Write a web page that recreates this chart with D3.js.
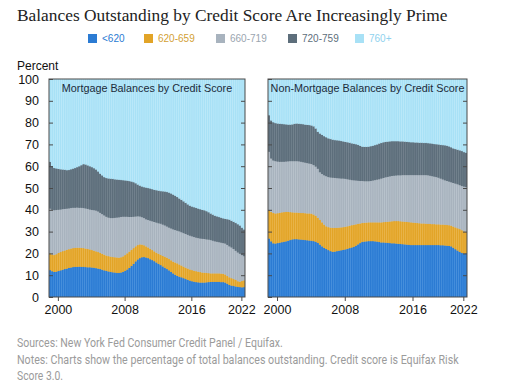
<!DOCTYPE html>
<html><head><meta charset="utf-8">
<script src="https://cdn.jsdelivr.net/npm/d3@7"></script>
<style>body{margin:0;background:#fff}svg{display:block}</style>
</head><body>
<svg id="c" width="506" height="391"></svg>
<script>
// ---------- data ----------
const seriesNames = ["<620","620-659","660-719","720-759","760+"];
const years = [1999,2000,2001,2002,2003,2004,2005,2006,2007,2008,2009,2010,2011,2012,2013,2014,2015,2016,2017,2018,2019,2020,2021,2022];
const quarterNames = ["Q1","Q2","Q3","Q4"];
const quarters = years.flatMap(y => quarterNames.map(q => y + q)).slice(0, 94); // 1999Q1 .. 2022Q2
const xTickLabels = ["2000","2008","2016","2022"];
const yTickValues = [0,10,20,30,40,50,60,70,80,90,100];

// Mortgage balances, percent of total by credit score
const mortLt620 = [12.3,11.8,11.5,11.6, 11.9,12.2,12.5,12.8, 13.0,13.3,13.5,13.7, 13.8,13.8,13.9,13.8, 13.8,13.7,13.6,13.6, 13.5,13.4,13.2,13.0, 12.8,12.5,12.2,12.0, 11.7,11.5,11.3,11.2, 11.0,11.0,11.2,11.5, 12.0,12.6,13.3,14.2, 15.2,16.3,17.2,17.8, 18.2,18.3,18.1,17.8, 17.3,16.9,16.4,15.8, 15.2,14.6,14.0,13.4, 12.8,12.2,11.5,10.8, 10.2,9.7,9.3,9.0, 8.6,8.2,7.8,7.5, 7.2,7.0,6.8,6.7, 6.6,6.6,6.6,6.7, 6.8,6.9,6.9,6.9, 6.9,6.9,6.8,6.8, 6.6,6.1,5.5,5.2, 5.0,4.8,4.6,4.5, 4.4,4.5];
const mort620 = [7.7,7.7,7.7,8.0, 8.3,8.4,8.5,8.5, 8.6,8.6,8.7,8.7, 8.7,8.8,8.7,8.7, 8.6,8.5,8.4,8.2, 8.0,7.8,7.7,7.6, 7.4,7.3,7.2,7.0, 7.0,7.0,7.0,7.0, 7.1,7.0,7.0,7.1, 7.2,7.4,7.5,7.4, 7.2,6.9,6.6,6.3, 5.8,5.4,5.1,4.9, 4.8,4.6,4.5,4.5, 4.6,4.7,4.8,5.0, 5.2,5.2,5.3,5.4, 5.6,5.7,5.6,5.4, 5.3,5.2,5.2,5.1, 5.1,5.0,5.0,4.9, 4.8,4.6,4.5,4.3, 4.1,3.9,3.9,3.9, 3.9,3.9,3.9,3.8, 3.7,3.5,3.5,3.4, 3.2,3.0,2.6,2.5, 2.9,3.1];
const mort660 = [20.5,20.5,20.6,20.3, 19.8,19.5,19.3,19.1, 18.9,18.7,18.6,18.5, 18.4,18.4,18.3,18.4, 18.4,18.4,18.4,18.3, 18.4,18.6,18.7,18.6, 18.4,18.2,18.0,17.8, 17.7,17.7,17.9,18.1, 18.3,18.5,18.5,18.2, 17.6,16.8,15.9,15.1, 14.4,13.7,13.2,12.8, 12.6,12.5,12.4,12.6, 12.9,13.2,13.5,13.8, 14.0,14.3,14.4,14.4, 14.3,14.4,14.6,14.8, 14.9,15.0,15.2,15.3, 15.4,15.5,15.5,15.5, 15.5,15.5,15.4,15.4, 15.4,15.5,15.5,15.4, 15.4,15.3,15.0,14.7, 14.5,14.3,14.2,14.1, 14.2,14.3,14.2,14.1, 13.8,13.4,13.2,12.8, 11.9,11.1];
const mort720 = [21.5,20.0,19.4,19.1, 18.8,18.5,18.2,18.0, 17.7,17.7,17.8,18.0, 18.3,18.6,19.1,19.6, 20.2,20.2,20.0,19.9, 19.7,19.3,18.9,18.4, 18.0,17.8,17.6,17.8, 18.0,18.1,18.0,17.7, 17.5,17.3,17.0,16.8, 16.7,16.6,16.5,16.3, 15.9,15.3,14.6,14.2, 14.1,14.2,14.6,14.7, 14.8,14.8,14.8,14.9, 15.0,15.0,15.3,15.6, 15.9,16.1,16.1,16.0, 15.8,15.5,15.1,14.9, 14.6,14.3,14.0,13.8, 13.7,13.7,13.7,13.6, 13.5,13.3,13.2,13.0, 12.6,12.2,12.0,11.8, 11.7,11.6,11.5,11.4, 11.4,11.8,12.3,12.3, 12.5,12.8,13.0,13.0, 12.6,12.3];
const mort760 = [38.0,40.0,40.8,41.0, 41.2,41.4,41.5,41.6, 41.8,41.7,41.4,41.1, 40.8,40.4,40.0,39.5, 39.0,39.2,39.6,40.0, 40.4,40.9,41.5,42.4, 43.4,44.2,45.0,45.4, 45.6,45.7,45.8,46.0, 46.1,46.2,46.3,46.4, 46.5,46.6,46.8,47.0, 47.3,47.8,48.4,48.9, 49.3,49.6,49.8,50.0, 50.2,50.5,50.8,51.0, 51.2,51.4,51.5,51.6, 51.8,52.1,52.5,53.0, 53.5,54.1,54.8,55.4, 56.1,56.8,57.5,58.1, 58.5,58.8,59.1,59.4, 59.7,60.0,60.2,60.6, 61.1,61.7,62.2,62.7, 63.0,63.3,63.6,63.9, 64.1,64.3,64.5,65.0, 65.5,66.0,66.6,67.2, 68.2,69.0];

// Non-mortgage balances, percent of total by credit score
const nmLt620 = [26.8,25.5,24.6,24.5, 24.7,24.9,25.1,25.3, 25.5,25.8,26.1,26.4, 26.5,26.5,26.4,26.3, 26.2,26.1,26.0,25.9, 25.8,25.6,25.3,24.8, 24.0,23.2,22.5,22.0, 21.5,21.0,20.7,20.8, 21.0,21.2,21.4,21.6, 21.8,22.1,22.4,22.7, 23.0,23.5,24.1,24.7, 25.2,25.4,25.5,25.6, 25.6,25.6,25.5,25.4, 25.2,25.0,25.0,24.9, 24.8,24.7,24.6,24.6, 24.5,24.4,24.3,24.2, 24.1,24.0,23.9,23.8, 23.8,23.8,23.8,23.8, 23.8,23.8,23.8,23.8, 23.8,23.8,23.8,23.8, 23.8,23.7,23.7,23.6, 23.5,23.4,23.2,22.6, 21.9,21.3,20.7,20.2, 19.9,20.0];
const nm620 = [13.0,13.5,13.9,13.8, 13.7,13.7,13.7,13.6, 13.5,13.2,12.8,12.4, 12.2,12.2,12.2,12.2, 12.3,12.3,12.3,12.4, 12.4,12.2,11.9,11.5, 11.3,11.0,10.7,10.4, 10.5,10.8,11.0,10.9, 10.7,10.6,10.5,10.4, 10.4,10.3,10.3,10.2, 10.1,9.8,9.4,9.0, 8.7,8.6,8.6,8.6, 8.6,8.6,8.7,8.8, 9.0,9.2,9.3,9.5, 9.7,9.9,10.1,10.2, 10.3,10.4,10.4,10.4, 10.4,10.4,10.4,10.4, 10.3,10.2,10.1,10.0, 9.9,9.9,9.8,9.7, 9.7,9.6,9.6,9.5, 9.5,9.5,9.5,9.5, 9.5,9.5,9.5,9.7, 10.0,10.2,10.4,10.4, 10.2,9.8];
const nm660 = [26.8,24.5,24.1,24.0, 23.7,23.4,23.2,23.1, 23.1,23.2,23.4,23.5, 23.6,23.6,23.6,23.5, 23.3,23.2,23.1,22.9, 22.8,22.7,22.6,22.5, 21.9,22.2,22.6,23.0, 23.0,23.0,23.0,22.9, 22.8,22.6,22.4,22.3, 22.0,21.6,21.1,20.7, 20.4,20.1,19.8,19.5, 19.3,19.1,19.0,18.9, 19.0,19.2,19.4,19.6, 19.8,20.1,20.3,20.5, 20.6,20.7,20.8,20.8, 20.9,21.0,21.1,21.3, 21.4,21.5,21.6,21.7, 21.8,21.9,22.0,22.1, 22.2,22.2,22.3,22.3, 22.1,22.0,21.8,21.7, 21.4,21.1,20.7,20.4, 20.2,20.0,19.9,20.0, 20.1,20.2,20.2,20.3, 20.5,20.6];
const nm720 = [16.8,17.5,17.6,17.5, 17.5,17.5,17.4,17.3, 17.1,16.9,16.8,16.9, 17.2,17.3,17.3,17.4, 17.5,17.5,17.6,17.7, 17.7,17.8,17.5,17.0, 17.8,18.0,18.0,17.9, 17.8,17.7,17.5,17.4, 17.4,17.4,17.3,17.1, 17.0,17.0,17.0,16.9, 16.8,16.7,16.5,16.2, 15.8,15.8,15.8,15.9, 16.0,16.0,16.1,16.2, 16.4,16.4,16.4,16.3, 16.2,16.1,16.0,15.9, 15.8,15.7,15.6,15.5, 15.4,15.3,15.2,15.1, 15.1,15.0,15.0,14.9, 14.9,14.8,14.8,14.8, 14.9,15.0,15.0,15.1, 15.3,15.5,15.8,16.1, 16.2,16.2,16.1,15.9, 15.9,15.9,16.0,16.1, 15.9,15.8];
const nm760 = [16.6,19.0,19.8,20.2, 20.4,20.5,20.6,20.7, 20.8,20.9,20.9,20.8, 20.5,20.4,20.5,20.6, 20.7,20.9,21.0,21.1, 21.3,21.7,22.7,24.2, 25.0,25.6,26.2,26.7, 27.2,27.5,27.8,28.0, 28.1,28.2,28.4,28.6, 28.8,29.0,29.2,29.5, 29.7,29.9,30.2,30.6, 31.0,31.1,31.1,31.0, 30.8,30.6,30.3,30.0, 29.6,29.3,29.0,28.8, 28.7,28.6,28.5,28.5, 28.5,28.5,28.6,28.6, 28.7,28.8,28.9,29.0, 29.0,29.1,29.1,29.2, 29.2,29.3,29.3,29.4, 29.5,29.6,29.8,29.9, 30.0,30.2,30.3,30.4, 30.6,30.9,31.3,31.8, 32.1,32.4,32.7,33.0, 33.5,33.8];

// ---------- styles ----------
const colors = ["#2b7bd3","#e2a427","#a8b3be","#5d6e7b","#a8e1f6"];
const stripeColors = ["#4b94e0","#ecb850","#bcc6cf","#73838f","#c0ebfa"];
const legendTextColors = ["#2b7bd3","#d39f35","#9aa5af","#5d6e7b","#8fd2ee"];
const sans = "'Liberation Sans', Arial, sans-serif";

const svg = d3.select("#c");

// fit a text horizontally to a target width with a transform (keeps bbox honest)
function fitText(sel, x, yy, w) {
  const nat = sel.node().getComputedTextLength();
  sel.attr("x", 0).attr("y", 0).attr("transform", `translate(${x},${yy}) scale(${w / nat},1)`);
}

// title
fitText(svg.append("text")
  .attr("font-family", "'Liberation Serif', 'Times New Roman', serif")
  .attr("font-size", 17.5).attr("fill", "#222")
  .text("Balances Outstanding by Credit Score Are Increasingly Prime"), 17, 21, 431);

// legend
const legendX = d3.scaleOrdinal().domain(seriesNames).range([88,144,216,288,355]);
const lg = svg.append("g").attr("font-family", sans).attr("font-size", 10);
seriesNames.forEach((n, i) => {
  lg.append("rect").attr("x", legendX(n)).attr("y", 34).attr("width", 9).attr("height", 9).attr("fill", colors[i]);
  lg.append("text").attr("x", legendX(n) + 14).attr("y", 42).attr("fill", legendTextColors[i]).text(n);
});

// "Percent"
svg.append("text").attr("x", 17).attr("y", 70).attr("font-family", sans).attr("font-size", 12).attr("fill", "#111").text("Percent");

const y = d3.scaleLinear().domain([0, 100]).range([297, 79]).clamp(true);

function panel(id, x0, x1, title, arrays, showLabels) {
  const rows = quarters.map((q, i) => {
    const r = {q};
    seriesNames.forEach((n, k) => r[n] = arrays[k][i]);
    return r;
  });
  const stacked = d3.stack().keys(seriesNames)(rows);
  const x = d3.scaleBand().domain(quarters).range([x0, x1]).padding(0);
  const bw = x.bandwidth();
  const g = svg.append("g");
  g.append("clipPath").attr("id", "clip" + id).append("rect")
    .attr("x", x0).attr("y", y(100)).attr("width", x1 - x0).attr("height", y(0) - y(100));
  const plot = g.append("g").attr("clip-path", `url(#clip${id})`);
  // lighter underlayer (gives the striped look)
  stacked.forEach((layer, k) => {
    plot.append("g").attr("fill", stripeColors[k]).selectAll("rect").data(layer).join("rect")
      .attr("x", d => x(d.data.q) - 0.2).attr("width", bw + 0.4)
      .attr("y", d => y(d[1])).attr("height", d => y(d[0]) - y(d[1]));
  });
  stacked.forEach((layer, k) => {
    plot.append("g").attr("fill", colors[k]).selectAll("rect").data(layer).join("rect")
      .attr("x", d => x(d.data.q) + bw * 0.2).attr("width", bw * 0.72)
      .attr("y", d => y(d[1]) - (k === 4 ? 0 : 0.2)).attr("height", d => y(d[0]) - y(d[1]) + 0.2);
  });
  // frame
  g.append("rect").attr("x", x0).attr("y", y(100)).attr("width", x1 - x0).attr("height", y(0) - y(100))
    .attr("fill", "none").attr("stroke", "#4a4a4a").attr("stroke-width", 1);
  // y axes (ticks inside)
  const yl = d3.axisLeft(y).tickValues(yTickValues).tickSizeInner(-4).tickSizeOuter(0).tickPadding(10)
    .tickFormat(showLabels ? d3.format("d") : "");
  const gl = g.append("g").attr("transform", `translate(${x0},0)`).call(yl);
  gl.select(".domain").remove();
  gl.selectAll("line").attr("stroke", "#4a4a4a");
  gl.selectAll("text").attr("font-family", sans).attr("font-size", 12.5).attr("fill", "#111");
  const yr = d3.axisRight(y).tickValues(yTickValues.slice(1, -1)).tickSizeInner(-4).tickSizeOuter(0).tickFormat("");
  const gr = g.append("g").attr("transform", `translate(${x1},0)`).call(yr);
  gr.select(".domain").remove();
  gr.selectAll("line").attr("stroke", "#4a4a4a");
  // x axis
  const xa = d3.axisBottom(x).tickValues(xTickLabels.map(t => t + "Q1")).tickSizeInner(4).tickSizeOuter(0).tickPadding(4)
    .tickFormat(d => d.slice(0, 4));
  const gx = g.append("g").attr("transform", `translate(0,${y(0)})`).call(xa);
  gx.select(".domain").remove();
  gx.selectAll("line").attr("stroke", "#4a4a4a");
  gx.selectAll("text").attr("font-family", sans).attr("font-size", 12.5).attr("fill", "#111");
  // panel title
  g.append("text").attr("x", (x0 + x1) / 2).attr("y", 92).attr("text-anchor", "middle")
    .attr("font-family", sans).attr("font-size", 10.8).attr("fill", "#1c2b3a").text(title);
}

panel("m", 49, 245, "Mortgage Balances by Credit Score", [mortLt620, mort620, mort660, mort720, mort760], true);
panel("n", 268, 467, "Non-Mortgage Balances by Credit Score", [nmLt620, nm620, nm660, nm720, nm760], false);

// footnotes
const notes = [
  ["Sources: New York Fed Consumer Credit Panel / Equifax.", 347, 266],
  ["Notes: Charts show the percentage of total balances outstanding. Credit score is Equifax Risk", 364, 442],
  ["Score 3.0.", 380, 46]
];
notes.forEach(([t, yy, w]) => {
  fitText(svg.append("text").attr("font-family", "Roboto, sans-serif")
    .attr("font-size", 12.5).attr("fill", "#9b9b9b").text(t), 17, yy, w);
});
</script>
</body></html>
